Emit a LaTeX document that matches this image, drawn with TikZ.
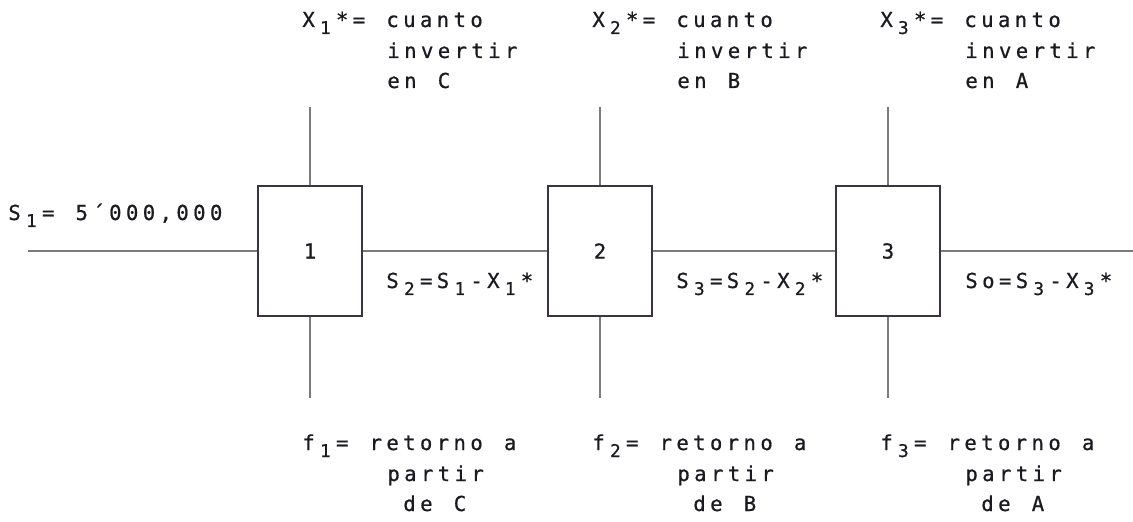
\documentclass[tikz,border=0pt]{standalone}
\usepackage{fontspec}
\newfontfamily\dotfont[FakeBold=0.8]{DejaVu Sans Mono}
\newcommand\dsize{\fontsize{20.6bp}{30bp}\selectfont}
\newlength\cellw
\setlength\cellw{16.8bp}
% lowered index digit
\newcommand\lo[1]{\raisebox{-7bp}{\fontsize{17.5bp}{20bp}\selectfont #1}}
% typewriter-like row: every character sits in a cell of fixed width
\ExplSyntaxOn
\NewDocumentCommand\cellrow{m}{\tl_map_inline:nn{#1}{\makebox[\cellw][c]{##1}}}
\ExplSyntaxOff
\definecolor{ink}{HTML}{1C1A20}
\definecolor{boxc}{HTML}{3A3440}
\definecolor{linec}{HTML}{7A7A7A}
\begin{document}
\begin{tikzpicture}[x=1bp,y=-1bp,
  txt/.style={inner sep=0pt, anchor=base west, font=\dotfont\dsize, text=ink},
  stage/.style={draw=boxc, line width=1.6bp, minimum width=104bp, minimum height=130bp,
                inner sep=0pt, font=\dotfont\dsize, text=ink},
  flow/.style={draw=linec, line width=1.7bp},
  branch/.style={draw=linec, line width=1.4bp}]
\useasboundingbox (0,0) rectangle (1133,522);

% stages
\node[stage] (b1) at (310,251) {1};
\node[stage] (b2) at (600,251) {2};
\node[stage] (b3) at (888,251) {3};

% main flow
\coordinate (in) at (28,251);
\coordinate (out) at (1133,251);
\draw[flow] (in) -- (b1.west);
\draw[flow] (b1.east) -- (b2.west);
\draw[flow] (b2.east) -- (b3.west);
\draw[flow] (b3.east) -- (out);

% decision and return branches
\foreach \b/\x in {b1/310, b2/600, b3/888}{
  \coordinate (\b t) at (\x,107);
  \coordinate (\b d) at (\x,398);
  \draw[branch] (\b t) -- (\b.north);
  \draw[branch] (\b.south) -- (\b d);
}

% input
\node[txt] (s1) at (6,220) {\cellrow{S{\lo1}=~5´000,000}};

% states between stages
\node[txt] (s2) at (384,288) {\cellrow{S{\lo2}=S{\lo1}-X{\lo1}*}};
\node[txt] (s3) at (674,288) {\cellrow{S{\lo3}=S{\lo2}-X{\lo2}*}};
\node[txt] (s0) at (963,288) {\cellrow{So=S{\lo3}-X{\lo3}*}};

% decisions
\node[txt] (x1a) at (300,27) {\cellrow{X{\lo1}*=~cuanto}};
\node[txt] (x1b) at (385,58) {\cellrow{invertir}};
\node[txt] (x1c) at (385,88) {\cellrow{en~C}};
\node[txt] (x2a) at (590,27) {\cellrow{X{\lo2}*=~cuanto}};
\node[txt] (x2b) at (675,58) {\cellrow{invertir}};
\node[txt] (x2c) at (675,88) {\cellrow{en~B}};
\node[txt] (x3a) at (878,27) {\cellrow{X{\lo3}*=~cuanto}};
\node[txt] (x3b) at (963,58) {\cellrow{invertir}};
\node[txt] (x3c) at (963,88) {\cellrow{en~A}};

% returns
\node[txt] (f1a) at (300,450) {\cellrow{f{\lo1}=~retorno~a}};
\node[txt] (f1b) at (385,481) {\cellrow{partir}};
\node[txt] (f1c) at (401,511) {\cellrow{de~C}};
\node[txt] (f2a) at (590,450) {\cellrow{f{\lo2}=~retorno~a}};
\node[txt] (f2b) at (675,481) {\cellrow{partir}};
\node[txt] (f2c) at (691,511) {\cellrow{de~B}};
\node[txt] (f3a) at (878,450) {\cellrow{f{\lo3}=~retorno~a}};
\node[txt] (f3b) at (963,481) {\cellrow{partir}};
\node[txt] (f3c) at (979,511) {\cellrow{de~A}};
\end{tikzpicture}
\end{document}
